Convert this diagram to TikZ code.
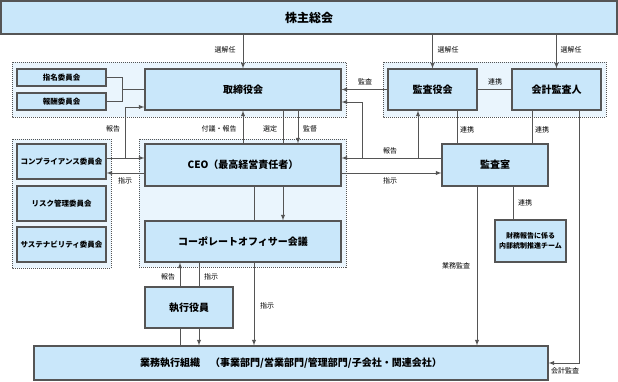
\documentclass[tikz,border=0pt]{standalone}
\usepackage{fontspec}
\setmainfont{Noto Sans CJK JP}
\usetikzlibrary{arrows,calc,positioning}

\definecolor{boxfill}{RGB}{201,231,250}
\definecolor{grpfill}{RGB}{234,245,253}
\definecolor{linecol}{RGB}{85,85,85}

\tikzset{
  box/.style={draw=linecol, fill=boxfill, line width=1.1pt, inner sep=0pt, align=center,
    font=\fontsize{10}{12}\selectfont\bfseries},
  smallbox/.style={box, font=\fontsize{7.5}{9}\selectfont\bfseries},
  grp/.style={draw=linecol, fill=grpfill, line width=0.8pt, dash pattern=on 1pt off 1pt},
  lbl/.style={inner sep=0pt, font=\fontsize{7}{8}\selectfont},
  link/.style={draw=linecol, line width=0.9pt},
  arr/.style={link, -latex},
}

\begin{document}
\begin{tikzpicture}[x=1pt, y=-1pt]
  \useasboundingbox (0,0) rectangle (618,381);

  % dotted groups
  \draw [grp] (12,62) rectangle (346,117);
  \draw [grp] (383,62) rectangle (606,117);
  \draw [grp] (12,139) rectangle (111,268);
  \draw [grp] (139,139) rectangle (346,267);

  % boxes
  \node[box, minimum width=616pt, minimum height=33pt, font=\fontsize{12}{14}\selectfont\bfseries] (gm) at (309,17.5) {株主総会};

  \node[box, minimum width=196pt, minimum height=41pt] (board) at (243,89.5) {取締役会};
  \node[smallbox, minimum width=89pt, minimum height=17pt] (nom) at (61.5,77.5) {指名委員会};
  \node[smallbox, minimum width=89pt, minimum height=17pt] (rem) at (61.5,101.5) {報酬委員会};

  \node[box, minimum width=89pt, minimum height=41pt] (aud) at (432.5,89.5) {監査役会};
  \node[box, minimum width=89pt, minimum height=41pt] (acc) at (556.5,89.5) {会計監査人};

  \node[box, minimum width=196pt, minimum height=42pt] (ceo) at (243,165) {CEO（最高経営責任者）};
  \node[box, minimum width=196pt, minimum height=41pt] (co) at (243,241.5) {コーポレートオフィサー会議};

  \node[smallbox, minimum width=89pt, minimum height=35pt] (comp) at (61.5,161.5) {コンプライアンス委員会};
  \node[smallbox, minimum width=89pt, minimum height=35pt] (risk) at (61.5,203.5) {リスク管理委員会};
  \node[smallbox, minimum width=89pt, minimum height=35pt] (sus) at (61.5,244.5) {サステナビリティ委員会};

  \node[box, minimum width=106pt, minimum height=42pt] (ia) at (495,165) {監査室};
  \node[smallbox, minimum width=71pt, minimum height=42pt, font=\fontsize{7}{10}\selectfont\bfseries] (team) at (530.5,241) {財務報告に係る\\内部統制推進チーム};

  \node[box, minimum width=88pt, minimum height=41pt] (exec) at (189,307.5) {執行役員};
  \node[box, minimum width=514pt, minimum height=34pt] (org) at (291,363) {業務執行組織　（事業部門/営業部門/管理部門/子会社・関連会社）};

  % shareholders
  \draw [arr] (gm.south -| board.north) -- (board.north);
  \draw [arr] (gm.south -| aud.north) -- (aud.north);
  \draw [arr] (gm.south -| acc.north) -- (acc.north);
  \node[lbl] (l-sel1) at (225,50) {選解任};
  \node[lbl] (l-sel2) at (448,50) {選解任};
  \node[lbl] (l-sel3) at (571,50) {選解任};

  % committees to board
  \coordinate (brk) at (122,89.5);
  \draw [link] (nom.east) -| (brk) -- (board.west);
  \draw [link] (rem.east) -| (brk);

  % audit board
  \draw [arr] (aud.west) -- (board.east);
  \node[lbl] (l-aud) at (365,82) {監査};
  \draw [link] (aud.east) -- (acc.west);
  \node[lbl] (l-coop1) at (495,82) {連携};

  % board and ceo
  \draw [arr] (ceo.north) -- (board.south);
  \draw [link] (board.south -| 283,0) -- (ceo.north -| 283,0);
  \draw [arr] (board.south -| 298,0) -- (ceo.north -| 298,0);
  \node[lbl] (l-fugi) at (219,129) {付議・報告};
  \node[lbl] (l-sentei) at (270,129) {選定};
  \node[lbl] (l-kantoku) at (310,129) {監督};

  % left committees and ceo
  \coordinate (j1) at (125,158);
  \draw [arr] (comp.east |- j1) -- (ceo.west |- j1);
  \draw [arr] (j1) |- (board.west |- 0,107);
  \draw [arr] (ceo.west |- 0,173) -- (comp.east |- 0,173);
  \node[lbl] (l-rep1) at (113,129) {報告};
  \node[lbl] (l-inst1) at (125,181) {指示};

  % internal audit office
  \coordinate (j2) at (362,158);
  \coordinate (j3) at (418,158);
  \draw [arr] (ia.west |- j2) -- (ceo.east |- j2);
  \draw [arr] (j2) |- (board.east |- 0,102);
  \draw [arr] (j3) -- (aud.south -| j3);
  \draw [arr] (ceo.east |- 0,173) -- (ia.west |- 0,173);
  \node[lbl] (l-rep2) at (390,151) {報告};
  \node[lbl] (l-inst2) at (390,181) {指示};

  \draw [link] (aud.south -| 457,0) -- (ia.north -| 457,0);
  \draw [link] (acc.south -| 532,0) -- (ia.north -| 532,0);
  \node[lbl] (l-coop2) at (467,130) {連携};
  \node[lbl] (l-coop3) at (542,130) {連携};

  \draw [link] (ia.south -| 513,0) -- (team.north -| 513,0);
  \node[lbl] (l-coop4) at (525,203) {連携};

  \draw [arr] (ia.south -| 477,0) -- (org.north -| 477,0);
  \node[lbl] (l-gyomu) at (456,266) {業務監査};

  \coordinate (j4) at (579,363);
  \draw [arr] (acc.south -| j4) -- (j4) -- (org.east);
  \node[lbl] (l-kaikei) at (565,371) {会計監査};

  % ceo, officers, organisation
  \draw [arr] (ceo.south -| 283,0) -- (co.north -| 283,0);
  \draw [link] (ceo.south -| 254,0) -- (co.north -| 254,0);
  \draw [arr] (co.south -| 254,0) -- (org.north -| 254,0);
  \node[lbl] (l-inst3) at (267,306) {指示};

  \draw [arr] (exec.north -| 180,0) -- (co.south -| 180,0);
  \draw [link] (org.north -| 180,0) -- (exec.south -| 180,0);
  \draw [link] (co.south -| 199,0) -- (exec.north -| 199,0);
  \draw [arr] (exec.south -| 199,0) -- (org.north -| 199,0);
  \node[lbl] (l-rep3) at (168,277) {報告};
  \node[lbl] (l-inst4) at (211,277) {指示};
\end{tikzpicture}
\end{document}
